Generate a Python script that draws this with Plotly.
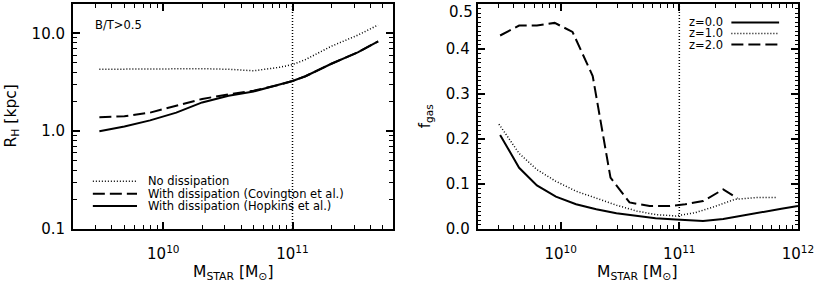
import plotly.graph_objects as go

# ---------------- data ----------------
# Left panel: R_H vs stellar mass (B/T>0.5)
mass_left = [3.2e9, 5.0e9, 7.9e9, 1.26e10, 2.0e10, 3.2e10, 5.0e10, 7.9e10,
             1.0e11, 1.26e11, 2.0e11, 3.2e11, 4.6e11]
rh_no_diss = [4.30, 4.32, 4.36, 4.40, 4.36, 4.30, 4.15, 4.50,
              4.80, 5.40, 7.40, 9.60, 12.2]
rh_covington = [1.39, 1.42, 1.55, 1.82, 2.14, 2.38, 2.60, 2.98,
                3.26, 3.65, 4.90, 6.40, 8.30]
rh_hopkins = [1.00, 1.12, 1.29, 1.55, 1.97, 2.30, 2.55, 2.98,
              3.26, 3.65, 4.90, 6.40, 8.30]

# Right panel: gas fraction vs stellar mass
logm_z0 = [9.49, 9.65, 9.80, 9.96, 10.13, 10.30, 10.47, 10.64, 10.80,
           10.97, 11.13, 11.20, 11.37, 11.53, 11.70, 11.86, 12.0]
fgas_z0 = [0.209, 0.136, 0.097, 0.072, 0.055, 0.044, 0.035, 0.029, 0.024,
           0.021, 0.018, 0.018, 0.022, 0.030, 0.038, 0.045, 0.051]
logm_z1 = [9.48, 9.65, 9.80, 9.96, 10.13, 10.30, 10.47, 10.64, 10.80,
           10.97, 11.13, 11.30, 11.47, 11.65, 11.82]
fgas_z1 = [0.233, 0.168, 0.132, 0.106, 0.084, 0.068, 0.053, 0.040, 0.032,
           0.029, 0.036, 0.050, 0.066, 0.070, 0.070]
logm_z2 = [9.49, 9.65, 9.80, 9.95, 10.10, 10.27, 10.42, 10.58, 10.75,
           10.92, 11.05, 11.20, 11.37, 11.49]
fgas_z2 = [0.430, 0.452, 0.452, 0.458, 0.438, 0.340, 0.114, 0.059, 0.051,
           0.051, 0.055, 0.062, 0.088, 0.068]

ref_mass = 1e11
left_legend = ["No dissipation", "With dissipation (Covington et al.)",
               "With dissipation (Hopkins et al.)"]
right_legend = ["z=0.0", "z=1.0", "z=2.0"]
panel_label = "B/T>0.5"
xtitle = "M<sub>STAR</sub> [M<sub>⊙</sub>]"
ytitle_left = "R<sub>H</sub> [kpc]"
ytitle_right = "f<sub>gas</sub>"

# ---------------- styling ----------------
FONT = "DejaVu Sans"
DOT = "1px,2px"
DASH = "12px,5px"
BLACK = "black"

fig = go.Figure()

# left panel traces
fig.add_trace(go.Scatter(x=mass_left, y=rh_no_diss, mode="lines",
                         line=dict(color=BLACK, width=1.5, dash=DOT),
                         xaxis="x", yaxis="y"))
fig.add_trace(go.Scatter(x=mass_left, y=rh_covington, mode="lines",
                         line=dict(color=BLACK, width=2, dash=DASH),
                         xaxis="x", yaxis="y"))
fig.add_trace(go.Scatter(x=mass_left, y=rh_hopkins, mode="lines",
                         line=dict(color=BLACK, width=2),
                         xaxis="x", yaxis="y"))
fig.add_trace(go.Scatter(x=[ref_mass, ref_mass], y=[0.1, 20], mode="lines",
                         line=dict(color=BLACK, width=1.5, dash=DOT),
                         xaxis="x", yaxis="y"))

# right panel traces
fig.add_trace(go.Scatter(x=[10 ** v for v in logm_z0], y=fgas_z0, mode="lines",
                         line=dict(color=BLACK, width=2),
                         xaxis="x2", yaxis="y2"))
fig.add_trace(go.Scatter(x=[10 ** v for v in logm_z1], y=fgas_z1, mode="lines",
                         line=dict(color=BLACK, width=1.5, dash=DOT),
                         xaxis="x2", yaxis="y2"))
fig.add_trace(go.Scatter(x=[10 ** v for v in logm_z2], y=fgas_z2, mode="lines",
                         line=dict(color=BLACK, width=2, dash=DASH),
                         xaxis="x2", yaxis="y2"))
fig.add_trace(go.Scatter(x=[ref_mass, ref_mass], y=[0, 0.5], mode="lines",
                         line=dict(color=BLACK, width=1.5, dash=DOT),
                         xaxis="x2", yaxis="y2"))


def minor_log(lo_exp, hi_exp):
    vals = []
    for e in range(lo_exp, hi_exp + 1):
        for m in range(2, 10):
            vals.append(m * 10 ** e)
    return vals


common = dict(showline=True, linewidth=2, linecolor=BLACK, mirror="allticks",
              ticks="inside", ticklen=7, tickwidth=1.5, tickcolor=BLACK,
              showgrid=False, zeroline=False, automargin=False,
              tickfont=dict(family=FONT, size=15, color=BLACK))

fig.update_layout(
    width=817, height=283,
    margin=dict(l=73, r=19, t=4, b=54),
    paper_bgcolor="white", plot_bgcolor="white",
    showlegend=False,
    font=dict(family=FONT, color=BLACK),
    xaxis=dict(domain=[0, 0.4414], type="log", range=[9.301, 11.778],
               tickvals=[1e10, 1e11], ticktext=["10<sup>10</sup>", "10<sup>11</sup>"],
               ticklabelstandoff=10,
               minor=dict(tickvals=minor_log(9, 11), ticks="inside", ticklen=4,
                          tickcolor=BLACK, tickwidth=1),
               anchor="y", **common),
    yaxis=dict(domain=[0, 1], type="log", range=[-1, 1.301],
               tickvals=[0.1, 1, 10], ticktext=["0.1", "1.0", "10.0"],
               ticklabelstandoff=3,
               minor=dict(tickvals=minor_log(-1, 1), ticks="inside", ticklen=4,
                          tickcolor=BLACK, tickwidth=1),
               anchor="x", **common),
    xaxis2=dict(domain=[0.5582, 1], type="log", range=[9.301, 12],
                tickvals=[1e10, 1e11, 1e12],
                ticktext=["10<sup>10</sup>", "10<sup>11</sup>", "10<sup>12</sup>"],
                ticklabelstandoff=10,
                minor=dict(tickvals=minor_log(9, 11), ticks="inside", ticklen=4,
                           tickcolor=BLACK, tickwidth=1),
                anchor="y2", **common),
    yaxis2=dict(domain=[0, 1], range=[0, 0.5],
                tickvals=[0, 0.1, 0.2, 0.3, 0.4],
                ticktext=["0.0", "0.1", "0.2", "0.3", "0.4"],
                ticklabelstandoff=3,
                minor=dict(dtick=0.01, ticks="inside", ticklen=3,
                           tickcolor=BLACK, tickwidth=1),
                anchor="x2", **common),
)

annotations = [
    dict(text="0.5", xref="x2 domain", yref="y2 domain", x=0, y=1,
         xanchor="right", yanchor="top", xshift=-3, yshift=3, showarrow=False,
         font=dict(family=FONT, size=15, color=BLACK)),
    dict(text=panel_label, xref="x domain", yref="y domain", x=0.064, y=0.905,
         xanchor="left", yanchor="middle", showarrow=False,
         font=dict(family=FONT, size=11.5, color=BLACK)),
    # axis titles
    dict(text=xtitle, xref="x domain", yref="y domain", x=0.5, y=0,
         xanchor="center", yanchor="middle", yshift=-44, showarrow=False,
         font=dict(family=FONT, size=15.5, color=BLACK)),
    dict(text=xtitle, xref="x2 domain", yref="y2 domain", x=0.5, y=0,
         xanchor="center", yanchor="middle", yshift=-44, showarrow=False,
         font=dict(family=FONT, size=15.5, color=BLACK)),
    dict(text=ytitle_left, xref="x domain", yref="y domain", x=0, y=0.5,
         xanchor="center", yanchor="middle", xshift=-62, textangle=-90,
         showarrow=False, font=dict(family=FONT, size=15.5, color=BLACK)),
    dict(text=ytitle_right, xref="x2 domain", yref="y2 domain", x=0, y=0.5,
         xanchor="center", yanchor="middle", xshift=-52, textangle=-90,
         showarrow=False, font=dict(family=FONT, size=15, color=BLACK)),
]
shapes = []

left_styles = [(DOT, 1.5), (DASH, 2), ("solid", 2)]
left_rows = [0.212, 0.157, 0.102]
for txt, (dsh, w), yy in zip(left_legend, left_styles, left_rows):
    shapes.append(dict(type="line", xref="x domain", yref="y domain",
                       x0=0.062, x1=0.200, y0=yy, y1=yy,
                       line=dict(color=BLACK, width=w, dash=dsh)))
    annotations.append(dict(text=txt, xref="x domain", yref="y domain",
                            x=0.229, y=yy, xanchor="left", yanchor="middle",
                            showarrow=False,
                            font=dict(family=FONT, size=11.5, color=BLACK)))

right_styles = [("solid", 2), (DOT, 1.5), (DASH, 2)]
right_rows = [0.918, 0.869, 0.820]
for txt, (dsh, w), yy in zip(right_legend, right_styles, right_rows):
    shapes.append(dict(type="line", xref="x2 domain", yref="y2 domain",
                       x0=0.792, x1=0.941, y0=yy, y1=yy,
                       line=dict(color=BLACK, width=w, dash=dsh)))
    annotations.append(dict(text=txt, xref="x2 domain", yref="y2 domain",
                            x=0.655, y=yy, xanchor="left", yanchor="middle",
                            showarrow=False,
                            font=dict(family=FONT, size=11.5, color=BLACK)))

fig.update_layout(annotations=annotations, shapes=shapes)
fig.write_html("out.html",
               config={"displayModeBar": False},
               post_script="document.body.style.margin='0';"
                           "document.body.style.overflow='hidden';")
